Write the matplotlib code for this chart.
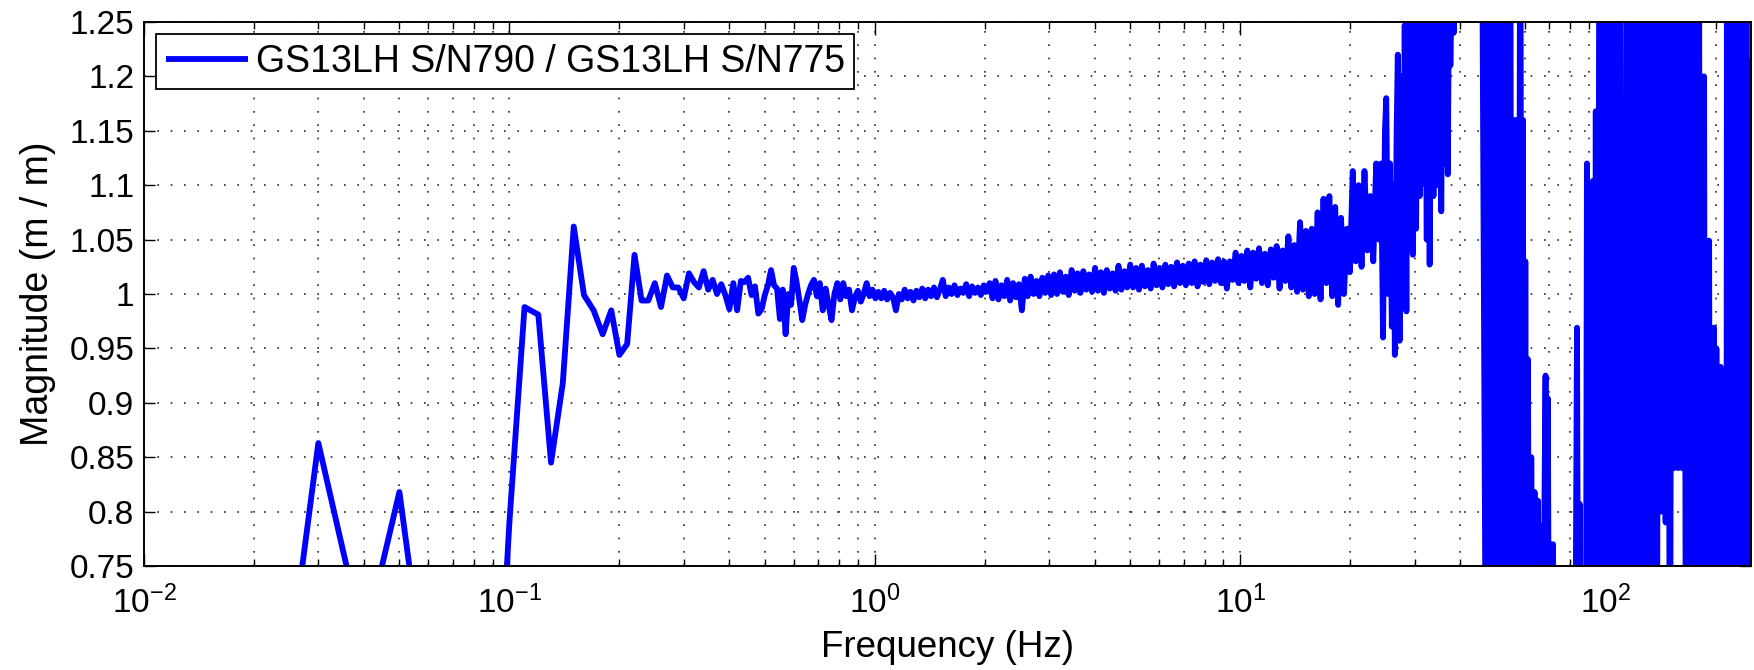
import numpy as np
import matplotlib
matplotlib.use('Agg')
import matplotlib.pyplot as plt
from matplotlib.ticker import LogLocator, FixedLocator, NullFormatter

plt.rcParams['font.family'] = ['Liberation Sans', 'DejaVu Sans']
plt.rcParams['mathtext.fontset'] = 'custom'
plt.rcParams['mathtext.rm'] = 'Liberation Sans'
plt.rcParams['mathtext.it'] = 'Liberation Sans:italic'
plt.rcParams['mathtext.bf'] = 'Liberation Sans:bold'

# ---------------- data ----------------
series_label = 'GS13LH S/N790 / GS13LH S/N775'

# low-frequency part: 0.01 Hz spacing, 0.01 .. 0.60 Hz
low_freq = np.arange(1, 61) / 100.0
low_mag = [0.30, 0.41, 0.863, 0.68, 0.818, 0.62, 0.55, 0.58, 0.52, 0.79,
           0.988, 0.981, 0.845, 0.918, 1.062, 0.999, 0.985, 0.963, 0.985, 0.944,
           0.954, 1.036, 0.994, 0.994, 1.010, 0.988, 1.017, 1.006, 1.006, 0.996,
           1.019, 1.011, 1.006, 1.021, 1.004, 1.013, 1.000, 1.009, 0.999, 0.986,
           1.010, 0.985, 1.012, 1.011, 1.015, 0.999, 1.007, 0.982, 0.986, 0.999,
           1.008, 1.022, 1.008, 1.005, 0.977, 1.004, 0.963, 1.000, 0.990, 1.024]

# mid-frequency part (0.61 .. 24 Hz)
mid_mag = [1.012, 0.995, 0.976, 0.99, 1.0, 1.008, 1.013, 0.998, 1.01,
           0.985, 1.005, 0.99, 0.976, 1.0, 1.01, 0.995,
           1.01, 0.998, 1.004, 0.985, 0.997, 1.003, 0.993, 1.0, 1.01, 0.998, 1.004, 0.996,
           1.002, 0.996, 1.003, 0.995, 1.001, 0.997, 0.985, 1.0, 0.995, 1.004, 0.996,
           1.002, 0.994, 1.003, 0.997, 1.005, 0.996, 1.004, 0.998, 1.006, 0.997, 1.004,
           1.013, 0.998, 1.006, 1.0, 1.008, 0.999, 1.005, 1.001, 1.009, 0.998, 1.007,
           1.001, 1.006, 0.999, 1.008, 1.002,
           1.01, 0.996, 1.012, 0.995, 1.008, 0.998, 1.013, 0.994, 1.01, 0.997, 1.009,
           0.985, 1.014, 0.998, 1.016, 1.0, 1.012, 0.998, 1.015, 1.001, 1.017, 0.999,
           1.018, 1.0, 1.02, 1.002, 1.016, 0.999, 1.022, 1.003, 1.019, 1.001, 1.021,
           1.004, 1.018, 1.002, 1.024, 1.003, 1.02, 1.001, 1.022, 1.005, 1.019, 1.003,
           1.026, 1.004, 1.021, 1.006, 1.027,
           1.006, 1.024, 1.004, 1.026, 1.007, 1.022, 1.005, 1.028, 1.008, 1.024, 1.006,
           1.027, 1.009, 1.025, 1.007, 1.029, 1.01, 1.026,
           1.008, 1.028, 1.01, 1.03, 1.007, 1.027, 1.011, 1.031, 1.009, 1.029, 1.012,
           1.032, 1.01, 1.03, 1.005, 1.03, 1.013, 1.038, 1.01,
           1.035, 1.012, 1.04, 1.006, 1.038, 1.014, 1.042, 1.01, 1.037, 1.008, 1.041,
           1.015, 1.044, 1.005, 1.04,
           1.012, 1.053, 1.006, 1.045, 1.002, 1.066, 1.004, 1.058,
           0.998, 1.06, 1.0, 1.075, 0.995, 1.0875, 1.01, 1.09, 0.998, 1.08, 0.99, 1.07,
           1.0, 1.06, 1.02,
           1.113, 1.03, 1.1, 1.025, 1.113, 1.04, 1.09, 1.03, 1.12, 1.05]
mid_freq = np.geomspace(0.61, 24.0, len(mid_mag))

# high-frequency part (24 .. 250 Hz)
high_freq = [24.3, 24.6, 24.9, 25.1, 25.4, 25.7, 26.0, 26.3, 26.5, 26.8,
             27.0, 27.3, 27.6, 27.9, 28.2, 28.5, 28.8, 29.1, 29.4, 29.7,
             30.0, 30.3, 30.6, 31.0, 31.3, 31.6, 32.0, 32.4, 32.7, 33.0,
             33.4, 33.8, 34.2, 34.6, 35.0, 35.5, 35.9, 36.4, 36.7, 37.0,
             37.3, 37.6, 38.0, 38.4, 38.8, 42.0, 45.7, 47.2, 47.8, 48.3,
             48.9, 49.4, 50.0, 50.6, 51.2, 51.8, 52.4, 53.0, 53.6, 54.2,
             54.8, 55.4, 56.0, 56.6, 57.2, 57.8, 58.4, 59.0, 59.4, 59.8,
             60.3, 60.8, 61.3, 61.9, 62.6, 63.2, 63.9, 64.6, 65.3, 65.9,
             66.5, 67.2, 68.0, 68.5, 69.0, 69.5, 70.0, 70.6, 71.2, 71.8,
             72.5, 82.3, 83.5, 84.2, 85.0, 85.8, 88.2, 88.9, 89.6, 90.3,
             91.2, 92.3, 93.0, 94.0, 95.0, 96.3, 97.5, 98.7, 100.0, 101.3,
             102.6, 104.0, 105.3, 106.6, 108.0, 109.2, 110.0, 110.3, 113.5, 114,
             116, 118, 120, 122, 124, 126, 128, 130, 132, 134,
             136, 138, 140, 142, 144, 146, 148, 150, 152, 154,
             156, 158, 160, 162, 164, 166, 168, 170, 172, 174,
             176, 178, 180, 181.5, 183, 184.5, 186, 187.5, 189, 190.5,
             192, 193.5, 195, 196.5, 198, 199.5, 201, 202, 203.5, 205,
             206.5, 208, 209.5, 211, 212.5, 214, 215, 217, 219, 221,
             223, 225, 227, 229, 231, 233, 235, 237, 239, 241,
             243, 245, 246.5, 248, 249, 250]
high_mag = [1.12, 0.96, 1.15, 1.18, 1.00, 1.12, 0.97, 1.10, 0.944, 1.15,
            1.22, 0.957, 1.20, 0.99, 1.247, 0.984, 1.30, 1.04, 1.30, 1.036,
            1.30, 1.06, 1.30, 1.09, 1.30, 1.101, 1.30, 1.05, 1.30, 1.027,
            1.30, 1.09, 1.30, 1.10, 1.30, 1.076, 1.30, 1.12, 1.30, 1.11,
            1.30, 1.21, 1.30, 1.24, 1.40, 1.45, 1.50, 0.50, 1.50, 0.50,
            1.50, 0.50, 1.50, 0.50, 1.50, 0.50, 1.50, 0.50, 1.50, 0.50,
            1.50, 0.50, 1.16, 0.50, 1.16, 0.50, 1.50, 0.50, 1.16, 0.50,
            1.03, 0.50, 0.94, 0.50, 0.85, 0.60, 0.818, 0.60, 0.81, 0.60,
            0.787, 0.60, 0.80, 0.925, 0.60, 0.904, 0.60, 0.77, 0.60, 0.77,
            0.50, 0.50, 0.969, 0.60, 0.807, 0.50, 0.50, 1.12, 0.925, 0.50,
            0.70, 1.104, 0.50, 1.168, 0.50, 1.50, 0.50, 1.50, 0.50, 1.50,
            0.50, 1.50, 0.50, 1.50, 0.50, 1.50, 1.032, 0.30, 0.30, 1.50,
            1.50, 0.50, 1.50, 0.50, 1.50, 0.50, 1.50, 0.50, 1.50, 0.50,
            1.50, 0.50, 1.50, 0.80, 1.50, 0.79, 1.50, 0.50, 1.50, 0.84,
            1.50, 0.84, 1.50, 0.84, 1.50, 0.50, 1.50, 0.50, 1.50, 0.50,
            1.50, 0.50, 1.50, 0.50, 1.20, 0.50, 1.20, 0.50, 1.049, 0.50,
            1.049, 0.50, 0.969, 0.50, 0.969, 0.50, 0.95, 0.50, 0.933, 0.50,
            0.933, 0.50, 0.876, 0.50, 0.81, 0.50, 1.50, 0.50, 1.50, 0.50,
            1.50, 0.50, 1.50, 0.50, 1.50, 0.50, 1.50, 0.50, 1.50, 0.50,
            1.50, 0.50, 1.214, 0.50, 1.138, 1.138]

y_ticks = [0.75, 0.8, 0.85, 0.9, 0.95, 1.0, 1.05, 1.1, 1.15, 1.2, 1.25]
y_tick_labels = ['0.75', '0.8', '0.85', '0.9', '0.95', '1', '1.05', '1.1', '1.15', '1.2', '1.25']

freq = np.concatenate([low_freq, mid_freq, np.array(high_freq)])
mag = np.concatenate([np.array(low_mag), np.array(mid_mag), np.array(high_mag)])

# ---------------- figure ----------------
W, H = 1754, 670
fig = plt.figure(figsize=(W / 100, H / 100), dpi=100)
ax = fig.add_axes([144 / W, 104 / H, 1607 / W, 544 / H])

ax.plot(freq, mag, color='#0000ff', lw=4.2, label=series_label,
        solid_joinstyle='round', solid_capstyle='butt')

ax.set_xscale('log')
ax.set_xlim(0.01, 250)
ax.set_ylim(0.75, 1.25)
ax.yaxis.set_major_locator(FixedLocator(y_ticks))
ax.set_yticklabels(y_tick_labels)
ax.xaxis.set_major_locator(LogLocator(base=10, numticks=20))
ax.xaxis.set_minor_locator(LogLocator(base=10, subs=np.arange(2, 10), numticks=50))
ax.xaxis.set_minor_formatter(NullFormatter())

grid_kw = dict(linestyle=(0, (1, 7)), color='0.15', linewidth=1.2)
ax.grid(True, which='major', axis='both', **grid_kw)
ax.grid(True, which='minor', axis='x', **grid_kw)

ax.tick_params(which='both', direction='in', top=True, right=True,
               labelsize=24, width=1.0, colors='black')
ax.tick_params(axis='x', which='major', length=9, pad=14)
ax.tick_params(axis='y', which='major', length=8, pad=7)
ax.tick_params(which='minor', length=5)
for s in ax.spines.values():
    s.set_linewidth(1.4)
    s.set_color('black')

ax.set_xlabel('Frequency (Hz)', fontsize=26.5, labelpad=7)
ax.set_ylabel('Magnitude (m / m)', fontsize=27, labelpad=10)

leg = ax.legend(loc='upper left', fontsize=27, frameon=True, fancybox=False,
                edgecolor='black', framealpha=1, borderaxespad=0.33,
                borderpad=0.25, handlelength=2.2, handletextpad=0.2)
leg.get_frame().set_linewidth(1.3)

fig.savefig('out.png', dpi=100, facecolor='white')
